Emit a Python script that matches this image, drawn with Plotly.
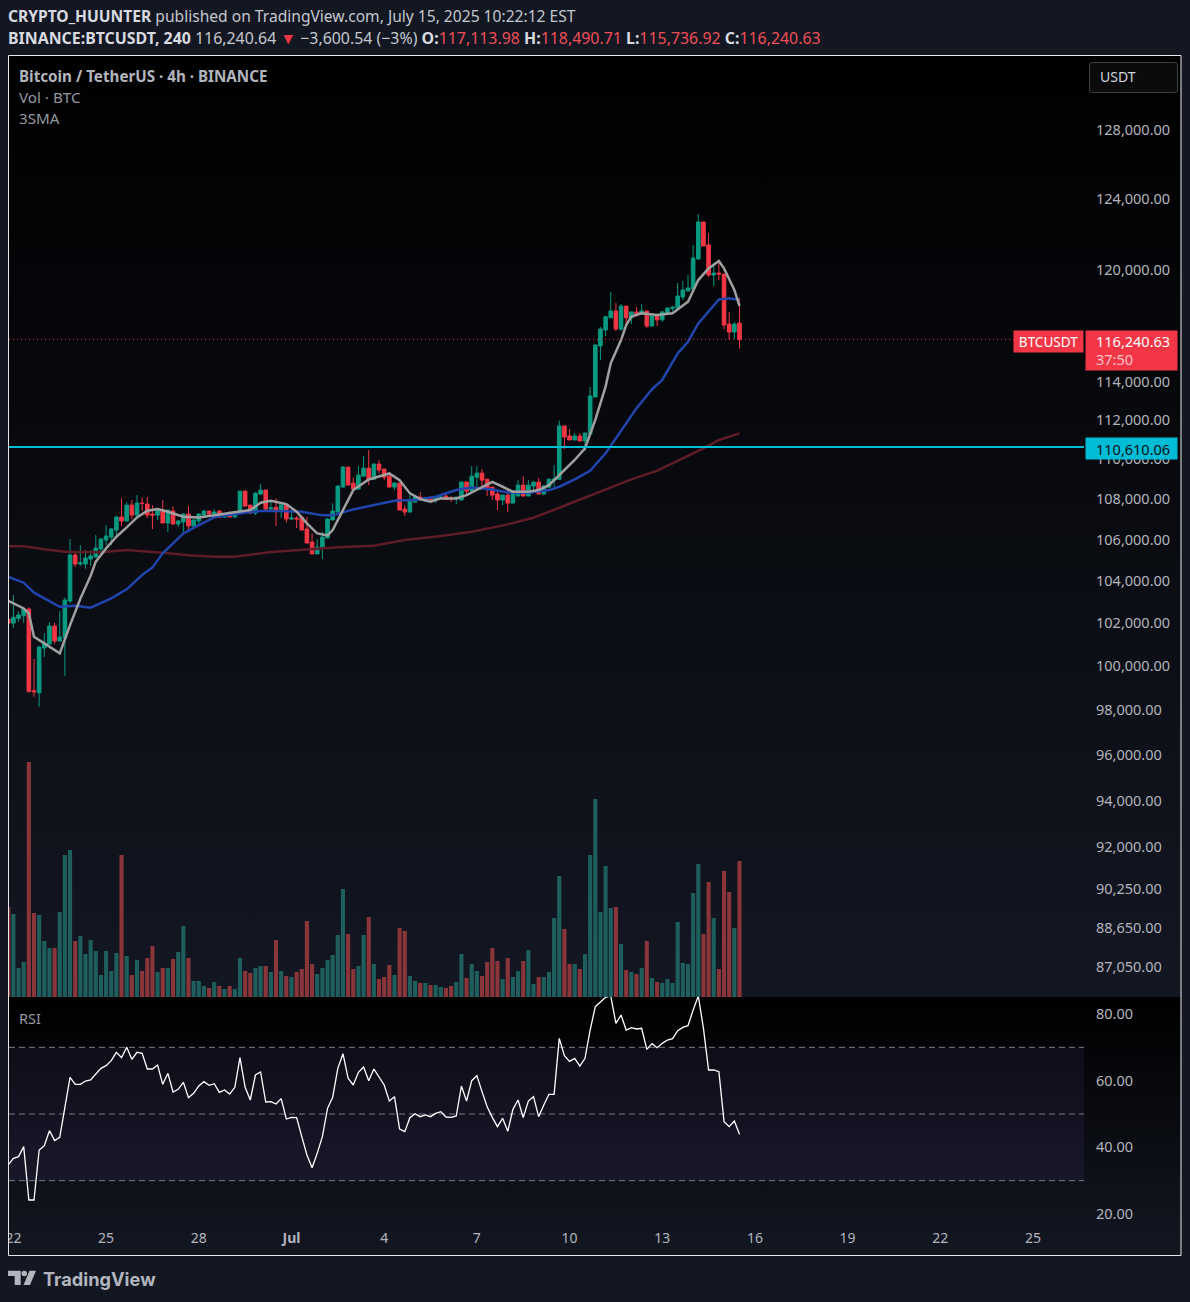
"""plot.py - BTCUSDT 4h chart with volume, three SMA lines and RSI"""
import numpy as np
import pandas as pd
import plotly.graph_objects as go

W, H = 1190, 1302

dates = pd.date_range("2025-06-21 20:00", "2025-07-15 12:00", freq="4h")

opens = [
    102190, 102000, 102220, 102345, 102660, 98870, 98780, 100835, 101020, 101860,
    101160, 101300, 103040, 105250, 104815, 104815, 105055, 105155, 105540, 105975,
    106120, 106465, 107105, 106910, 107695, 107200, 107795, 107745, 107250, 107200,
    107450, 106810, 107400, 106760, 106860, 107250, 106660, 106910, 107200, 107400,
    107250, 107400, 107105, 107200, 107105, 107300, 108390, 107695, 107300, 108244,
    108443, 107498, 107580, 107449, 107696, 107006, 107055, 107088, 106514, 105878,
    105299, 105589, 106073, 106957, 107351, 108592, 109596, 108792, 108493, 109140,
    109545, 108990, 109748, 109495, 109140, 108592, 108792, 107498, 107351, 107845,
    108094, 107945, 108045, 107945, 108045, 108144, 108061, 107995, 107945, 108841,
    108393, 109090, 109292, 108990, 108592, 108244, 107945, 108194, 107796, 108144,
    108692, 108144, 108642, 108841, 108244, 108592, 108941, 108983, 111690, 111176,
    110973, 111176, 110922, 111278, 113192, 115884, 116736, 117395, 117767, 116790,
    118031, 117395, 117713, 117605, 117767, 116950, 117504, 117287, 117658, 117900,
    117922, 118525, 118855, 118965, 120620, 122690, 121400, 119730, 119840, 119785,
    117057, 116628, 117114,
]
highs = [
    102300, 103330, 102540, 102690, 102740, 100326, 100930, 101520, 102050, 102015,
    102566, 103215, 106025, 105440, 105730, 105490, 105490, 106220, 106075, 106710,
    106565, 107155, 108030, 107845, 107945, 108195, 108078, 108095, 107695, 107550,
    107945, 107450, 107645, 106955, 107300, 107645, 107005, 107300, 107450, 107400,
    107500, 107450, 107285, 107400, 107400, 108390, 108440, 107695, 108340, 108744,
    108443, 107945, 108028, 107713, 107696, 107449, 107154, 107154, 107088, 106302,
    106008, 106367, 107055, 107779, 108692, 109647, 109596, 109074, 109647, 110154,
    110458, 109799, 109951, 109495, 109342, 108841, 108792, 107696, 108194, 108194,
    108343, 108094, 108144, 108128, 108144, 108194, 108144, 108094, 108891, 108891,
    109647, 109647, 109495, 108990, 108592, 108443, 108194, 108443, 108443, 108941,
    109140, 108941, 108891, 109040, 108692, 108990, 109697, 111965, 111690, 111535,
    111329, 111329, 111329, 113717, 115937, 116897, 117504, 118800, 118196, 118141,
    118031, 117713, 117976, 118141, 117767, 117558, 117504, 117767, 117976, 118031,
    119290, 119400, 119730, 121400, 123145, 122690, 122070, 120395, 120395, 119785,
    117713, 117168, 118490,
]
lows = [
    101900, 101780, 102060, 102015, 98800, 98600, 98145, 100420, 101020, 101020,
    101160, 99540, 102930, 104680, 104720, 104590, 104720, 105105, 105300, 105730,
    105730, 106220, 106660, 106860, 107005, 107155, 107400, 107055, 106515, 106955,
    106810, 106365, 106760, 106610, 106270, 106365, 106610, 106710, 107155, 107155,
    107090, 107055, 107055, 107105, 107105, 107250, 107613, 107250, 107200, 108194,
    107449, 107400, 106662, 107055, 106826, 106957, 106564, 106465, 105830, 105299,
    105299, 105058, 106073, 106957, 107351, 108592, 108692, 108443, 108443, 109140,
    108692, 108941, 109275, 108941, 108592, 108443, 107449, 107154, 107351, 107845,
    107945, 107845, 107845, 107796, 107995, 107945, 107845, 107746, 107945, 108244,
    108393, 108592, 108592, 108144, 107945, 107449, 107696, 107351, 107796, 108144,
    108144, 108144, 108443, 108244, 108244, 108543, 108443, 108983, 110515, 110973,
    110973, 110922, 110413, 111278, 113192, 115138, 116416, 117395, 116683, 116683,
    117057, 117057, 117450, 117550, 116843, 116950, 116950, 117178, 117658, 117750,
    117922, 118361, 118855, 118965, 120565, 121344, 119620, 119120, 119455, 116790,
    116200, 116255, 115737,
]
closes = [
    102000, 102270, 102380, 102660, 98830, 98825, 100880, 101065, 101860, 101160,
    101345, 103088, 105250, 104815, 104865, 105105, 105200, 105590, 106025, 106170,
    106515, 107105, 106910, 107695, 107200, 107795, 107780, 107200, 107200, 107500,
    106810, 107450, 106760, 106910, 107250, 106660, 106955, 107250, 107400, 107250,
    107350, 107105, 107200, 107105, 107350, 108390, 107645, 107300, 108290, 108443,
    107498, 107564, 107449, 107713, 107006, 107055, 107006, 106465, 105830, 105299,
    105637, 106120, 107006, 107400, 108642, 109596, 108692, 108493, 109190, 109545,
    108990, 109748, 109444, 109090, 108592, 108792, 107449, 107351, 107895, 108094,
    107945, 108045, 107945, 108094, 108094, 107978, 107995, 108094, 108841, 108393,
    109140, 109292, 108941, 108543, 108194, 107945, 108194, 107796, 108393, 108692,
    108144, 108692, 108841, 108244, 108642, 108990, 108990, 111690, 111125, 110973,
    111176, 110922, 111329, 113244, 115937, 116790, 117450, 117767, 116790, 118031,
    117395, 117713, 117605, 117767, 116950, 117504, 117287, 117713, 117922, 117976,
    118580, 118909, 119020, 120675, 122690, 121344, 119730, 119840, 119785, 117005,
    116628, 117057, 116240,
]
volumes = [
    2700, 2490, 870, 1050, 7050, 2520, 2460, 1680, 1470, 1470,
    2550, 4260, 4410, 1680, 1830, 1290, 1710, 1380, 660, 1380,
    780, 1320, 4260, 1230, 660, 1110, 780, 1170, 1530, 750,
    870, 870, 1140, 1350, 2130, 1170, 480, 480, 330, 270,
    450, 330, 240, 330, 240, 1170, 780, 720, 870, 930,
    930, 750, 1710, 780, 630, 600, 750, 840, 2280, 990,
    690, 870, 1110, 1260, 1860, 3240, 1890, 840, 930, 1860,
    2400, 990, 540, 600, 960, 660, 2070, 1980, 630, 480,
    420, 420, 360, 360, 300, 270, 330, 450, 1290, 570,
    990, 780, 630, 1050, 1470, 1080, 540, 1170, 600, 780,
    1080, 1410, 390, 600, 600, 750, 2370, 3630, 2040, 990,
    990, 840, 1290, 4260, 5940, 2550, 3930, 2670, 2700, 1590,
    810, 750, 690, 870, 1680, 570, 450, 420, 540, 420,
    2250, 1020, 990, 3120, 3990, 1890, 3450, 2370, 840, 3780,
    3150, 2070, 4080,
]
rsi = [
    34.7, 36.7, 37.2, 40.2, 24.2, 24.2, 39.2, 40.5, 45.0, 42.0,
    43.0, 52.7, 61.0, 58.9, 58.9, 59.9, 60.2, 62.0, 63.7, 64.5,
    66.0, 68.5, 66.9, 70.0, 66.4, 68.5, 68.2, 63.5, 63.5, 64.7,
    58.9, 62.2, 56.6, 57.4, 59.5, 54.9, 56.2, 58.4, 59.7, 58.6,
    59.1, 56.5, 57.2, 56.0, 58.0, 66.9, 58.0, 54.2, 61.7, 62.6,
    53.6, 53.7, 53.0, 54.6, 48.5, 49.0, 48.9, 43.2, 37.7, 33.9,
    38.2, 43.2, 51.7, 55.0, 63.7, 68.1, 60.7, 58.7, 62.5, 64.1,
    60.0, 63.5, 61.0, 58.7, 53.9, 55.2, 45.5, 44.7, 48.9, 50.1,
    49.2, 49.7, 49.2, 50.2, 50.7, 49.1, 49.0, 49.4, 58.4, 53.9,
    60.0, 61.5, 56.7, 52.2, 49.0, 46.2, 48.7, 44.8, 51.4, 54.2,
    48.9, 53.9, 55.2, 49.2, 52.7, 55.9, 55.9, 72.7, 67.5, 65.8,
    66.7, 64.4, 66.7, 75.2, 82.2, 83.7, 85.0, 85.4, 77.2, 79.7,
    75.2, 75.9, 75.5, 75.7, 69.4, 71.1, 69.9, 71.2, 72.2, 72.6,
    75.0, 76.0, 76.5, 81.2, 85.4, 75.7, 63.2, 63.2, 62.7, 47.7,
    46.2, 47.9, 43.9,
]

# SMA lines, read at every few candles
fast_at = [0, 3, 4, 5, 7, 10, 12, 14, 16, 17, 19, 21, 23, 25, 27, 29, 31, 34, 37, 40, 44, 47,
           49, 51, 54, 56, 58, 60, 62, 63, 65, 67, 70, 71, 74, 76, 78, 80, 82, 84, 87, 89, 92,
           94, 96, 98, 101, 103, 105, 107, 110, 112, 114, 116, 117, 119, 120, 121, 123, 126,
           129, 132, 134, 136, 138, 139, 141, 142]
sma_fast = [103056, 102692, 102456, 101357, 101050, 100588, 101906, 103146, 104250, 104925,
            105570, 106138, 106596, 107088, 107416, 107498, 107367, 107120, 107088, 107203,
            107334, 107449, 107812, 107912, 107746, 107367, 106793, 106301, 106203, 106465,
            107449, 108443, 108974, 109057, 109275, 108941, 108277, 107995, 107862, 108028,
            108028, 108194, 108609, 108858, 108609, 108360, 108360, 108443, 108692, 109195,
            109956, 110549, 112002, 113734, 114960, 116200, 117007, 117460, 117640, 117550,
            117640, 118270, 119455, 120100, 120510, 120100, 118910, 118037]
mid_at = [0, 3, 5, 10, 13, 16, 20, 23, 26, 28, 30, 34, 37, 40, 44, 49, 53, 57, 61, 63, 67, 71,
          75, 79, 83, 87, 90, 94, 97, 101, 105, 107, 110, 113, 116, 118, 122, 125, 127, 130,
          132, 134, 138, 140, 142]
sma_mid = [104200, 103915, 103438, 102770, 102817, 102723, 103167, 103597, 104280, 104650,
           105331, 106301, 106711, 107088, 107252, 107400, 107400, 107367, 107187, 107187,
           107482, 107696, 107912, 107945, 108111, 108443, 108576, 108476, 108327, 108310,
           108443, 108609, 108982, 109414, 110295, 111054, 112604, 113594, 114083, 115490,
           116110, 117097, 118398, 118452, 118361]
slow_at = [0, 3, 7, 11, 18, 23, 30, 35, 40, 44, 51, 58, 64, 71, 77, 84, 90, 97, 102, 107, 116,
           121, 126, 131, 135, 138, 142]
sma_slow = [105669, 105669, 105524, 105411, 105379, 105492, 105363, 105234, 105170, 105170,
            105395, 105524, 105621, 105701, 105975, 106170, 106383, 106744, 107072, 107564,
            108448, 108982, 109414, 110040, 110549, 110973, 111312]

level_price = 110610.06
last_price = 116240.63

price_ticks = [128000, 124000, 120000, 114000, 112000, 110000, 108000, 106000, 104000, 102000,
               100000, 98000, 96000, 94000, 92000, 90250, 88650, 87050]
rsi_ticks = [80, 60, 40, 20]
day_ticks = ["2025-06-22", "2025-06-25", "2025-06-28", "2025-07-01", "2025-07-04", "2025-07-07",
             "2025-07-10", "2025-07-13", "2025-07-16", "2025-07-19", "2025-07-22", "2025-07-25"]
day_labels = ["22", "25", "28", "<b>Jul</b>", "4", "7", "10", "13", "16", "19", "22", "25"]

GREEN, RED = "#089981", "#F23645"
VOL_GREEN, VOL_RED = "#1E5F5E", "#8A353A"
AXIS_TEXT = "#B2B5BE"
BG = "#131722"
FONT = "Noto Sans"

vol_colors = [VOL_GREEN if c >= o else VOL_RED for o, c in zip(opens, closes)]
x_range = ["2025-06-21 20:35", "2025-07-26 15:36"]


def dom_y(top, bottom):
    return [1 - bottom / H, 1 - top / H]


fig = go.Figure()

# pane backgrounds, in page pixels
for top, bottom in [(56, 997), (997, 1255)]:
    fig.add_trace(go.Scatter(
        x=[9, 1181, 1181, 9, 9], y=[top, top, bottom, bottom, top],
        mode="none", fill="toself", xaxis="x", yaxis="y",
        fillgradient=dict(type="vertical", colorscale=[[0, BG], [1, "#000000"]]),
    ))

fig.add_trace(go.Bar(x=dates, y=volumes, marker=dict(color=vol_colors, line_width=0),
                     xaxis="x2", yaxis="y2"))
fig.add_trace(go.Candlestick(
    x=dates, open=opens, high=highs, low=lows, close=closes, xaxis="x2", yaxis="y3",
    increasing=dict(line=dict(color=GREEN, width=1), fillcolor=GREEN),
    decreasing=dict(line=dict(color=RED, width=1), fillcolor=RED),
    whiskerwidth=0,
))
for at, vals, color in [(slow_at, sma_slow, "#5E1C26"), (mid_at, sma_mid, "#2145AC"),
                        (fast_at, sma_fast, "#A0A0A0")]:
    fig.add_trace(go.Scatter(x=dates[at], y=vals, mode="lines", line=dict(color=color, width=2.5),
                             xaxis="x2", yaxis="y3"))

fig.add_trace(go.Scatter(x=x_range, y=[level_price, level_price], mode="lines",
                         line=dict(color="#00BCD4", width=2), xaxis="x2", yaxis="y3"))
fig.add_trace(go.Scatter(x=x_range, y=[last_price, last_price], mode="lines",
                         line=dict(color=RED, width=1, dash="1px,3px"), xaxis="x2", yaxis="y3"))

# RSI band and levels
fig.add_trace(go.Scatter(x=[x_range[0], x_range[1], x_range[1], x_range[0]], y=[30, 30, 70, 70],
                         mode="none", fill="toself", fillcolor="rgba(126,87,194,0.1)",
                         xaxis="x2", yaxis="y4"))
for lvl in [70, 50, 30]:
    fig.add_trace(go.Scatter(x=x_range, y=[lvl, lvl], mode="lines",
                             line=dict(color="#787B86", width=1, dash="6px,4px"),
                             xaxis="x2", yaxis="y4"))
fig.add_trace(go.Scatter(x=dates, y=rsi, mode="lines", line=dict(color="#FFFFFF", width=1.3),
                         xaxis="x2", yaxis="y4"))

annotations = []


def label(x, y, text, size=14, color=AXIS_TEXT, anchor="left", family=FONT, **kw):
    annotations.append(dict(x=x, y=y, xref="x", yref="y", text=text, showarrow=False, xanchor=anchor,
                            yanchor="middle", font=dict(size=size, color=color, family=family), **kw))


HEAD = "#C5C8CE"
label(6, 16, f"<b>CRYPTO_HUUNTER</b> <span style='color:{HEAD}'>published on TradingView.com, "
             "July 15, 2025 10:22:12 EST</span>", size=15.6, color="#D8DAE0")
PRICE_RED = "#EF4E58"
label(6, 38, f"<b>BINANCE:BTCUSDT, 240</b> <span style='color:{HEAD}'>116,240.64</span> "
             f"<span style='color:{RED}'>▼</span> <span style='color:{HEAD}'>−3,600.54 (−3%)</span> "
             f"<b>O:</b><span style='color:{PRICE_RED}'>117,113.98</span> "
             f"<b>H:</b><span style='color:{PRICE_RED}'>118,490.71</span> "
             f"<b>L:</b><span style='color:{PRICE_RED}'>115,736.92</span> "
             f"<b>C:</b><span style='color:{PRICE_RED}'>116,240.63</span>",
      size=15.9, color="#D8DAE0")
label(17, 76, "<b>Bitcoin / TetherUS · 4h · BINANCE</b>", size=15.2, color="#B2B5BE")
label(17, 97, "Vol · BTC", size=15.2, color="#9598A1")
label(17, 118, "3SMA", size=15.2, color="#9598A1")
label(17, 1018, "RSI", size=14.5, color="#9598A1")

label(1098, 76.5, "USDT", size=14, color="#D1D4DC")
# price tags sit over the axis labels
label(1085, 448.5, " ", size=12, bgcolor="#00BCD4", width=91, height=21, borderpad=0)
label(1133, 448.5, "110,610.06", size=14.5, color="#0B0E14", anchor="center")
label(1013, 341.5, "BTCUSDT", size=13.5, color="#FFFFFF", bgcolor=RED, width=69, height=21,
      borderpad=0, align="center")
label(1085, 350.5, " ", size=12, color="#FFFFFF", bgcolor=RED, width=91, height=39, borderpad=0)
label(1133, 341, "116,240.63", size=14.5, color="#FFFFFF", anchor="center")
label(1094, 358.5, "37:50", size=14.5, color="#FFC5CA")
label(41, 1279, "<b>TradingView</b>", size=18.2, color="#B2B5BE", family="Inter")

shapes = [
    # USDT button
    dict(type="path", xref="x", yref="y", layer="above", fillcolor="#0B0B0C",
         line=dict(color="#3A3D45", width=1),
         path="M 1092 62.5 L 1175 62.5 Q 1177.5 62.5 1177.5 65 L 1177.5 90 Q 1177.5 92.5 1175 92.5 "
              "L 1092 92.5 Q 1089.5 92.5 1089.5 90 L 1089.5 65 Q 1089.5 62.5 1092 62.5 Z"),
    # the first day label is cut by the frame
    dict(type="rect", xref="x", yref="y", x0=0, x1=8, y0=1226, y1=1254, layer="above",
         fillcolor=BG, line_width=0),
    # logo
    dict(type="path", xref="x", yref="y", layer="above", fillcolor="#B2B5BE", line_width=0,
         path="M 8 1270.7 L 20.7 1270.7 L 20.7 1285 L 14.7 1285 L 14.7 1276 L 8 1276 Z"),
    dict(type="circle", xref="x", yref="y", layer="above", fillcolor="#B2B5BE", line_width=0,
         x0=21.5, x1=27, y0=1270.7, y1=1276.2),
    dict(type="path", xref="x", yref="y", layer="above", fillcolor="#B2B5BE", line_width=0,
         path="M 29.5 1270.7 L 36 1270.7 L 30 1285 L 23.5 1285 Z"),
    # frame
    dict(type="rect", xref="x", yref="y", x0=8.5, x1=1181, y0=55.5, y1=1255.5, layer="above",
         fillcolor="rgba(0,0,0,0)", line=dict(color="#E8E8E8", width=1)),
]

plot_dom = [9 / W, 1084 / W]
hidden = dict(visible=False, fixedrange=True, automargin=False)
fig.update_layout(
    width=W, height=H, margin=dict(l=0, r=0, t=0, b=0, autoexpand=False),
    paper_bgcolor=BG, plot_bgcolor="rgba(0,0,0,0)",
    showlegend=False, bargap=0.2, boxgap=0.3, boxgroupgap=0,
    font=dict(family=FONT, color=AXIS_TEXT, size=14),
    xaxis=dict(domain=[0, 1], range=[0, W], **hidden),
    yaxis=dict(domain=[0, 1], range=[H, 0], **hidden),
    xaxis2=dict(domain=plot_dom, range=x_range, type="date", anchor="y4", showgrid=False, zeroline=False,
                rangeslider=dict(visible=False), tickvals=day_ticks, ticktext=day_labels, automargin=False,
                ticks="", tickfont=dict(size=14, color=AXIS_TEXT), showline=False),
    yaxis2=dict(domain=dom_y(56, 997), range=[0, 28230], anchor="x2", visible=False, automargin=False),
    yaxis3=dict(domain=dom_y(56, 997), type="log", anchor="x2", overlaying="y2", side="right",
                range=[np.log10(85866), np.log10(132438)], tickvals=price_ticks, automargin=False,
                ticktext=[f"{v:,.2f}" for v in price_ticks], showgrid=False, zeroline=False,
                ticks="", ticklabelstandoff=11, tickfont=dict(size=14.5, color=AXIS_TEXT)),
    yaxis4=dict(domain=dom_y(997, 1228), range=[15.8, 85.1], anchor="x2", side="right", automargin=False,
                tickvals=rsi_ticks, ticktext=[f"{v:.2f}" for v in rsi_ticks], showgrid=False,
                zeroline=False, ticks="", ticklabelstandoff=11, tickfont=dict(size=14.5, color=AXIS_TEXT)),
    annotations=annotations,
    shapes=shapes,
)

fig.write_html("out.html", config={"displayModeBar": False},
               post_script="document.body.style.margin='0';")
